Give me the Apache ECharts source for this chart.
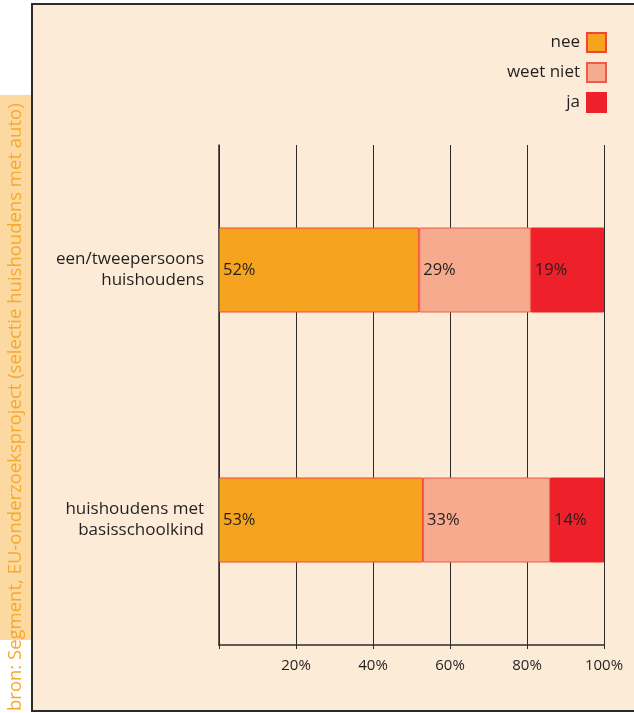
<!DOCTYPE html>
<html>
<head>
<meta charset="utf-8">
<script src="https://cdn.jsdelivr.net/npm/echarts@6/dist/echarts.min.js"></script>
<style>
  html, body { margin: 0; padding: 0; background: #ffffff; }
  #chart { width: 634px; height: 713px; }
</style>
</head>
<body>
<div id="chart"></div>
<script>
// Household groups (top to bottom)
const categories = ['een/tweepersoons\nhuishoudens', 'huishoudens met\nbasisschoolkind'];
// Answer shares per group, in percent
const neeValues = [52, 53];
const weetNietValues = [29, 33];
const jaValues = [19, 14];
const seriesNames = ['nee', 'weet niet', 'ja'];
const tickValues = [0, 20, 40, 60, 80, 100];
const sourceText = 'bron: Segment, EU-onderzoeksproject (selectie huishoudens met auto)';

const FONT = 'Open Sans';
const INK = '#231f20';
const colors = ['#f6a41f', '#f6aa8e', '#ee2029'];
const borders = ['#f2453a', '#f05a4a', '#ee2029'];

function barSeries(name, values, idx) {
  return {
    name: name,
    type: 'bar',
    stack: 'total',
    data: values,
    barWidth: 85,
    z: 3,
    itemStyle: { color: colors[idx], borderColor: borders[idx], borderWidth: 1 },
    label: {
      show: true,
      position: 'insideLeft',
      distance: 4,
      formatter: '{c}%',
      color: INK,
      fontFamily: FONT,
      fontSize: 16.5
    }
  };
}

const chart = echarts.init(document.getElementById('chart'));
chart.setOption({
  animation: false,
  backgroundColor: '#ffffff',
  textStyle: { fontFamily: FONT },
  graphic: [
    {
      type: 'rect', z: -10, silent: true,
      shape: { x: 0, y: 95, width: 31, height: 545 },
      style: { fill: '#fdd9a2' }
    },
    {
      type: 'rect', z: -10, silent: true,
      shape: { x: 32, y: 4, width: 620, height: 707 },
      style: { fill: '#fcecd7', stroke: '#2e2a2b', lineWidth: 2 }
    },
    {
      // vertical source note, reading bottom to top
      type: 'text', z: 10, silent: true,
      x: 25, y: 711, rotation: Math.PI / 2,
      style: {
        text: sourceText,
        fill: '#f7a92a',
        font: '18.5px "' + FONT + '"',
        textAlign: 'left',
        textVerticalAlign: 'bottom'
      }
    }
  ],
  legend: {
    orient: 'vertical',
    right: 22,
    top: 27,
    align: 'right',
    icon: 'rect',
    itemWidth: 19,
    itemHeight: 19,
    itemGap: 9,
    data: seriesNames,
    textStyle: { color: INK, fontFamily: FONT, fontSize: 17, padding: [0, 2, 0, 0] }
  },
  grid: { left: 219, right: 30, top: 145, bottom: 68, containLabel: false },
  xAxis: {
    type: 'value',
    min: tickValues[0],
    max: tickValues[tickValues.length - 1],
    interval: 20,
    axisLine: { show: true, lineStyle: { color: '#2e2a2b', width: 1.5 } },
    axisTick: { show: true, length: 4, lineStyle: { color: '#2e2a2b' } },
    splitLine: { show: true, lineStyle: { color: '#2e2a2b', width: 1 } },
    axisLabel: {
      color: INK, fontFamily: FONT, fontSize: 15, margin: 13,
      formatter: v => (v === 0 ? '' : v + '%')
    }
  },
  yAxis: {
    type: 'category',
    inverse: true,
    data: categories,
    axisLine: { show: true, lineStyle: { color: '#2e2a2b', width: 1.5 } },
    axisTick: { show: false },
    axisLabel: {
      color: INK, fontFamily: FONT, fontSize: 17, margin: 15,
      align: 'right', lineHeight: 21
    }
  },
  series: [
    barSeries(seriesNames[0], neeValues, 0),
    barSeries(seriesNames[1], weetNietValues, 1),
    barSeries(seriesNames[2], jaValues, 2)
  ]
});
</script>
</body>
</html>
